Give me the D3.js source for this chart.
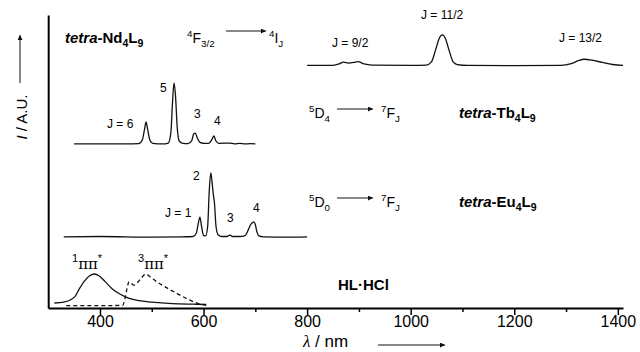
<!DOCTYPE html>
<html><head><meta charset="utf-8">
<script src="https://cdn.jsdelivr.net/npm/d3@7"></script>
<style>
body{margin:0;background:#fff}
svg{display:block;font-family:"Liberation Sans",Arial,sans-serif}
</style></head><body>
<svg id="c" width="640" height="352"></svg>
<script>
// wavelength (nm), intensity (a.u., spectra stacked with their own baseline)
const hlSinglet = [[312,1.7],[330,2.0],[345,3.0],[352,4.0],[360,6.5],[370,9.2],[380,11.0],[389,11.6],[398,11.0],[410,9.0],[425,6.3],[440,4.6],[455,3.4],[475,2.5],[500,2.0],[540,1.5],[580,1.3],[605,1.2]];
const hlTriplet = [[335,0.8],[400,0.8],[444,0.9],[448,3],[452,6.5],[456,8.9],[460,8.5],[465,7.8],[472,8.6],[480,10.3],[489,11.6],[497,10.6],[510,8.9],[530,6.8],[550,4.8],[570,3.0],[590,1.5],[606,0.9]];
const euSpec = [[330,24.3],[400,24.4],[500,24.2],[560,24.3],[580,24.4],[586,25.5],[590,29],[593,31.0],[596,28],[600,24.8],[604,24.6],[608,28],[611,40],[614,46.1],[617,42],[619,38.5],[621,36],[624,28],[628,25],[635,24.4],[645,24.4],[651,24.9],[656,24.4],[670,24.4],[680,24.7],[686,26.5],[691,28.5],[695,29.2],[697,29.4],[700,28.5],[703,26],[707,24.6],[715,24.3],[760,24.2],[800,24.3]];
const tbSpec = [[350,56],[450,56],[475,56.1],[482,57.5],[486,61],[489,63.5],[492,61],[496,57.5],[502,56.2],[520,56],[532,56.3],[537,60],[540,70],[543,76.8],[546,72],[549,62],[553,57],[560,56.2],[570,56.1],[577,57],[581,59.5],[584,59.7],[588,58],[593,56.5],[600,56.2],[610,56.2],[616,57.5],[620,58.7],[624,57],[630,56.2],[650,56.3],[660,56],[670,56.2],[680,56],[690,56.1],[700,56]];
const ndSpec = [[800,82.8],[850,82.8],[862,83.3],[870,83.9],[880,83.6],[890,83.8],[898,84.1],[910,83.3],[925,82.9],[1000,82.8],[1030,82.9],[1040,84],[1048,88],[1055,92],[1061,93.2],[1067,92],[1074,88],[1082,84],[1090,83.1],[1110,82.8],[1200,82.7],[1290,82.8],[1310,83.4],[1325,84.5],[1335,84.9],[1350,84.6],[1370,83.8],[1390,83.1],[1410,82.8]];
const majorTicks = [400,600,800,1000,1200,1400];
const minorTicks = [500,700,900,1100,1300];

const svg = d3.select('#c');
const x = d3.scaleLinear().domain([300,1410]).range([48.2,623]);
const y = d3.scaleLinear().domain([0,100]).range([308,15]);

const line = d3.line().x(d=>x(d[0])).y(d=>y(d[1])).curve(d3.curveMonotoneX);
function draw(data, dash){
  svg.append('path').datum(data).attr('d',line).attr('fill','none')
    .attr('stroke','#111').attr('stroke-width',1.3)
    .attr('stroke-dasharray',dash||null);
}
draw(hlSinglet); draw(hlTriplet,'4,3'); draw(euSpec); draw(tbSpec); draw(ndSpec);

// axes
const gx = svg.append('g').attr('transform','translate(0,308)');
gx.call(d3.axisBottom(x).tickValues(majorTicks).tickSize(7).tickSizeOuter(0).tickFormat(d3.format('d')));
const gm = svg.append('g').attr('transform','translate(0,308)');
gm.call(d3.axisBottom(x).tickValues(minorTicks).tickSize(4).tickSizeOuter(0).tickFormat(''));
gm.select('.domain').remove();
gx.select('.domain').attr('stroke-width',2);
svg.selectAll('.tick line').attr('stroke-width',1.5);
gx.selectAll('.tick text').attr('font-size','16px').attr('font-family','"Liberation Sans",Arial,sans-serif').attr('dy','0.55em').attr('fill','#000');
const gy = svg.append('g').attr('transform','translate(48.2,0)');
gy.call(d3.axisLeft(y).tickValues([]).tickSizeOuter(0));
gy.select('.domain').attr('stroke-width',2);

// arrow marker
svg.append('defs').append('marker').attr('id','ah').attr('viewBox','0 0 10 10')
  .attr('refX',10).attr('refY',5).attr('markerWidth',7).attr('markerHeight',5)
  .attr('markerUnits','userSpaceOnUse').attr('orient','auto')
  .append('path').attr('d','M0,0L10,5L0,10Z').attr('fill','#111');
function arrow(x1,y1,x2,y2){
  svg.append('line').attr('x1',x1).attr('y1',y1).attr('x2',x2).attr('y2',y2)
   .attr('stroke','#111').attr('stroke-width',1).attr('marker-end','url(#ah)');
}

// rich text helper
function rich(xp, yp, parts, size, extra){
  const t = svg.append('text').attr('x',xp).attr('y',yp).attr('font-size',size+'px').attr('fill','#000');
  if(extra) extra(t);
  let shift = 0;
  parts.forEach(p=>{
    const s = typeof p==='string'?{t:p}:p;
    const target = s.sup ? -size*0.42 : s.sub ? size*0.28 : 0;
    const ts = t.append('tspan').text(s.t).attr('dy', target-shift);
    shift = target;
    if(s.sup||s.sub) ts.attr('font-size',(size*0.7)+'px');
    if(s.i) ts.attr('font-style','italic');
    if(s.f) ts.attr('font-family',s.f);
    if(s.fs) ts.attr('font-size',s.fs+'px');
  });
  return t;
}
const bold = t=>t.attr('font-weight','bold');

// compound names
rich(65,43,[{t:'tetra',i:1},'-Nd',{t:'4',sub:1},'L',{t:'9',sub:1}],15,bold);
rich(459,118,[{t:'tetra',i:1},'-Tb',{t:'4',sub:1},'L',{t:'9',sub:1}],15,bold);
rich(459,207,[{t:'tetra',i:1},'-Eu',{t:'4',sub:1},'L',{t:'9',sub:1}],15,bold);
rich(338,290,['HL·HCl'],15,bold);

// transitions
rich(187,43,[{t:'4',sup:1},'F',{t:'3/2',sub:1}],14);
arrow(226,31,266,31);
rich(269,43,[{t:'4',sup:1},'I',{t:'J',sub:1}],14);
rich(309,118,[{t:'5',sup:1},'D',{t:'4',sub:1}],14);
arrow(337,109,373,109);
rich(381,118,[{t:'7',sup:1},'F',{t:'J',sub:1}],14);
rich(309,207,[{t:'5',sup:1},'D',{t:'0',sub:1}],14);
arrow(337,198,373,198);
rich(381,207,[{t:'7',sup:1},'F',{t:'J',sub:1}],14);

// peak labels
const lbl = (xp,yp,s)=>svg.append('text').attr('x',xp).attr('y',yp).attr('font-size','12px').attr('fill','#000').text(s);
lbl(107,128,'J = 6'); lbl(160,92,'5'); lbl(194,118,'3'); lbl(214,125,'4');
lbl(165,217,'J = 1'); lbl(193,180,'2'); lbl(227,222,'3'); lbl(253,212,'4');
lbl(332,47,'J = 9/2'); lbl(421,19,'J = 11/2'); lbl(559,42,'J = 13/2');
rich(72,269,[{t:'1',sup:1,fs:11},{t:'ππ',f:'"DejaVu Serif",serif',fs:15},{t:'*',sup:1,fs:11}],16);
rich(138,269,[{t:'3',sup:1,fs:11},{t:'ππ',f:'"DejaVu Serif",serif',fs:15},{t:'*',sup:1,fs:11}],16);

// axis titles
rich(0,0,[{t:'I',i:1},' / A.U.'],15,t=>t.attr('transform','translate(27,117) rotate(-90)').attr('text-anchor','middle').attr('x',0).attr('y',0));
arrow(20,83,20,35);
rich(303,347,[{t:'λ',i:1,f:'"Liberation Serif",serif'},' / nm'],17);
arrow(378,345,445,345);
</script></body></html>
